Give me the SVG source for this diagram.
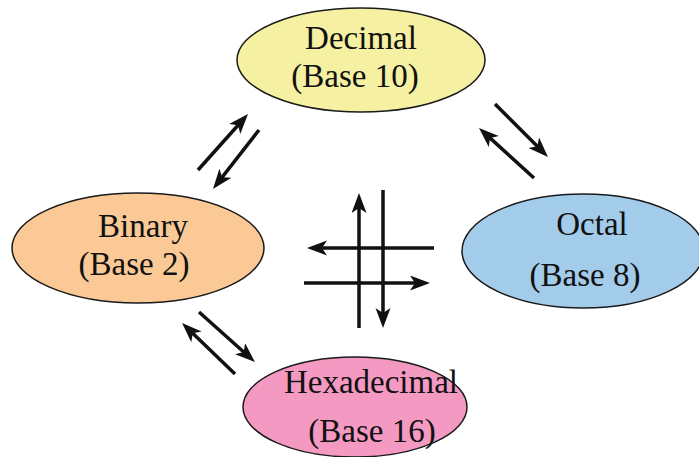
<svg xmlns="http://www.w3.org/2000/svg" width="699" height="457" viewBox="0 0 699 457">
<style>
.node{stroke:#1a1a1a;stroke-width:1.5}
.lbl{font-family:"Liberation Serif","Times New Roman",serif;font-size:33px;fill:#111;text-anchor:middle}
.arr{stroke:#111;stroke-width:3.5;fill:none;marker-end:url(#ah)}
</style>
<defs>
<marker id="ah" markerUnits="userSpaceOnUse" markerWidth="22" markerHeight="16" refX="12" refY="7.5" orient="auto">
<path d="M0,0 L20,7.5 L0,15 L5,7.5 Z" fill="#111"/>
</marker>
</defs>
<rect width="699" height="457" fill="#fff"/>
<g id="decimal">
<ellipse class="node" cx="361" cy="60" rx="124" ry="52" fill="#f5f0a2"/>
<text class="lbl" x="361" y="49">Decimal</text>
<text class="lbl" x="355" y="87">(Base 10)</text>
</g>
<g id="binary">
<ellipse class="node" cx="138" cy="248" rx="126" ry="55" fill="#fbc995"/>
<text class="lbl" x="143" y="237">Binary</text>
<text class="lbl" x="134" y="275">(Base 2)</text>
</g>
<g id="octal">
<ellipse class="node" cx="583" cy="251" rx="121" ry="57" fill="#a3cbea"/>
<text class="lbl" x="592" y="235">Octal</text>
<text class="lbl" x="585" y="286">(Base 8)</text>
</g>
<g id="hexadecimal">
<ellipse class="node" cx="355" cy="407" rx="112" ry="50" fill="#f49ac2"/>
<text class="lbl" x="371" y="393">Hexadecimal</text>
<text class="lbl" x="372" y="442">(Base 16)</text>
</g>
<g id="connectors">
<line class="arr" x1="198" y1="170" x2="242.7" y2="120"/>
<line class="arr" x1="259" y1="130" x2="217.9" y2="182.7"/>
<line class="arr" x1="495" y1="104" x2="542.3" y2="151.3"/>
<line class="arr" x1="534" y1="178" x2="484.9" y2="133.4"/>
<line class="arr" x1="199" y1="312" x2="249" y2="356.7"/>
<line class="arr" x1="235" y1="374" x2="187.8" y2="328.5"/>
<line class="arr" x1="359" y1="328" x2="359" y2="201"/>
<line class="arr" x1="383" y1="190" x2="383" y2="320"/>
<line class="arr" x1="434" y1="248" x2="315" y2="248"/>
<line class="arr" x1="304" y1="283" x2="422" y2="283"/>
</g>
</svg>
